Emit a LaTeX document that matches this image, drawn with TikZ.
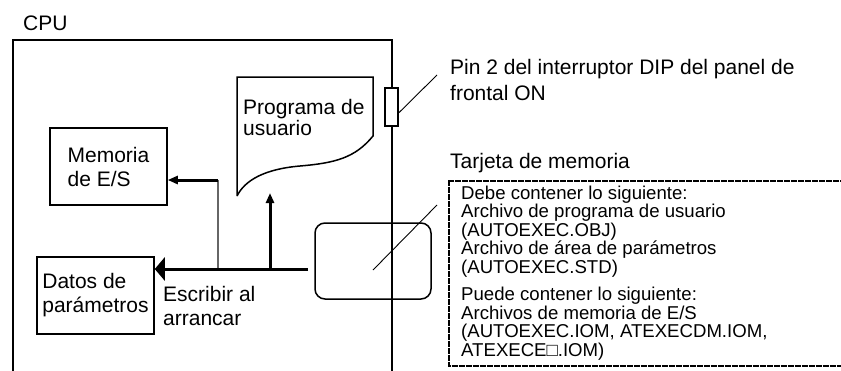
\documentclass[tikz,border=0pt]{standalone}
\usepackage{fontspec}
\setmainfont{Liberation Sans}
\usetikzlibrary{arrows.meta}

\begin{document}
\begin{tikzpicture}[x=1pt, y=-1pt,
        block/.style={draw, rectangle, line width=1.5pt, minimum width=117pt, minimum height=77pt, align=left, inner sep=0pt, font=\fontsize{21}{24}\selectfont},
        txt/.style={anchor=base west, align=left, inner sep=0pt, font=\fontsize{21}{24}\selectfont},
        cardtxt/.style={anchor=base west, align=left, inner sep=0pt, font=\fontsize{18.6}{18.5}\selectfont},
        outline/.style={line width=1.5pt},
        flow/.style={-{Triangle[length=10pt, width=8pt]}, line width=3pt},
        bigflow/.style={-{Triangle[length=10pt, width=23pt]}, line width=3pt},
        feed/.style={line width=1.2pt, black!60},
        leader/.style={line width=0.9pt},
        infobox/.style={line width=1.5pt, dash pattern=on 3pt off 0.5pt}
    ]
    \useasboundingbox (0,0) rectangle (841,370);

    % --- CPU ---
    \node[txt] (cpu) at (23,30) {CPU};
    \draw[outline] (13,372) -- (13,40) -- (392,40) -- (392,372);

    \node[block] (memoria) at (108.5,166.5) {Memoria\\de E/S};
    \node[block] (datos) at (95.5,295.5) {Datos de\\parámetros};

    % --- User program sheet ---
    \draw[outline] (237,196) -- (237,77) -- (373,77) -- (373,136)
        .. controls (355,158) and (335,163) .. (300,166)
        .. controls (265,169) and (245,180) .. (237,196);
    % base anchor sits on the last line
    \node[txt, font=\fontsize{21}{21}\selectfont] (programa) at (243,135) {Programa de\\usuario};

    % --- DIP switch and memory card ---
    \node[draw, fill=white, line width=1.2pt, minimum width=13pt, minimum height=38pt, inner sep=0pt] (dip) at (391.5,107) {};
    \node[draw, rounded corners=10pt, line width=1.5pt, minimum width=116pt, minimum height=76pt, inner sep=0pt] (card) at (373,261) {};

    % --- Arrows ---
    \coordinate (feedin) at (308,269);
    \coordinate (fork) at (218,269);
    \coordinate (bend) at (218,180);
    \coordinate (rise) at (270,269);
    \coordinate (progtip) at (270,193);
    \draw[feed] (fork) -- (bend);
    \draw[flow] (bend) -- (memoria.east |- bend);
    \draw[flow] (rise) -- (progtip);
    \draw[bigflow] (feedin) -- (datos.east |- feedin);
    \node[txt] (escribir) at (163,325) {Escribir al\\arrancar};

    % --- Callouts ---
    \coordinate (pinend) at (437,75);
    \draw[leader] ([yshift=-6pt]dip.east) -- (pinend);
    \node[txt, font=\fontsize{21}{26}\selectfont] (pintxt) at (450,100) {Pin 2 del interruptor DIP del panel de\\frontal ON};

    \coordinate (cardend) at (437,205);
    \draw[leader] ([yshift=-9pt]card.center) -- (cardend);
    \node[txt] (tarjeta) at (450,168) {Tarjeta de memoria};
    \draw[infobox] (860,181) -- (449,181) -- (449,366) -- (860,366);
    \node[cardtxt] (contenido) at (461,356) {Debe contener lo siguiente:\\Archivo de programa de usuario\\(AUTOEXEC.OBJ)\\Archivo de área de parámetros\\(AUTOEXEC.STD)\\[8.8pt]Puede contener lo siguiente:\\Archivos de memoria de E/S\\(AUTOEXEC.IOM, ATEXECDM.IOM,\\ATEXECE□.IOM)};

\end{tikzpicture}
\end{document}
